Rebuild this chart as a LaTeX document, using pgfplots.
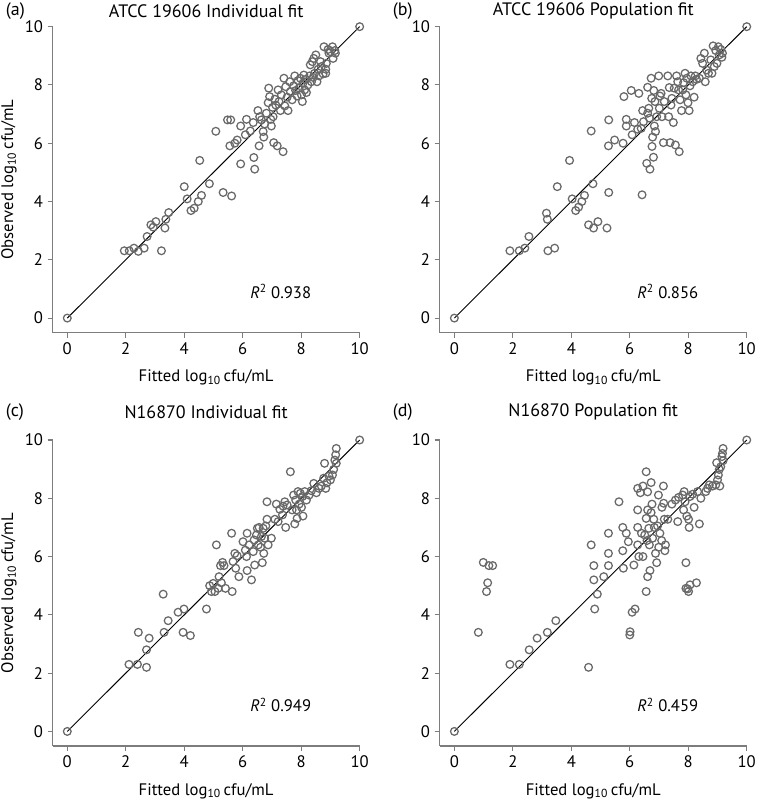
\documentclass[border=0pt]{standalone}
\usepackage{fontspec}
\setmainfont{PT Sans}
\usepackage{pgfplots}
\pgfplotsset{compat=1.18}
\definecolor{ptc}{RGB}{105,105,105}
\definecolor{axc}{RGB}{125,125,125}
\pgfplotsset{
  panel/.style={
    width=230.25pt, height=229.5pt, scale only axis,
    xmin=-0.5, xmax=10, ymin=-0.5, ymax=10,
    axis lines=left,
    axis line style={-, draw=axc, line width=1.1pt},
    x axis line style={-}, y axis line style={-},
    xtick={0,2,...,10}, ytick={0,2,...,10},
    tick align=outside, major tick length=3.75pt,
    tick style={draw=axc, line width=0.8pt},
    /pgf/number format/assume math mode=true,
    tick label style={font=\fontsize{12.5pt}{14pt}\selectfont},
    label style={font=\fontsize{12.5pt}{14pt}\selectfont},
    xlabel={Fitted log\textsubscript{10}\,cfu/mL},
    xlabel style={at={(axis description cs:0.5,-0.147)}, anchor=center},
    clip=false,
    anchor=south west,
  },
  ylab/.style={
    ylabel={Observed log\textsubscript{10}\,cfu/mL},
    ylabel style={at={(axis description cs:-0.1425,0.5)}, anchor=center, rotate=0},
  },
  pts/.style={only marks, mark=o, mark size=2.9pt, mark options={draw=ptc, line width=0.95pt}},
}
\newcommand{\diag}{\addplot[black, line width=0.7pt, no marks] coordinates {(0,0) (10,10)};}
\newcommand{\rfont}{\fontsize{12.5pt}{14pt}\selectfont}
\newcommand{\tfont}{\fontsize{13.5pt}{15pt}\selectfont}
\begin{document}
\begin{tikzpicture}
\path[use as bounding box] (0,0) rectangle (567.75pt,604.5pt);
% (a)
\begin{axis}[panel, ylab, at={(39.5pt,355pt)}]
\addplot[pts] coordinates {
(0,0) (10,10)
(1.95,2.31) (2.12,2.31) (2.28,2.40) (2.43,2.29) (2.63,2.40) (2.73,2.80) (3.22,2.31)
(2.86,3.2) (2.94,3.12) (3.03,3.31) (3.34,3.09) (3.37,3.39) (3.47,3.62)
(4.0,4.51) (4.10,4.09) (4.23,3.69) (4.34,3.77) (4.48,4.0) (4.59,4.21) (4.53,5.41)
(4.86,4.61) (5.33,4.31) (5.62,4.19) (5.08,6.41) (5.48,6.80) (5.59,6.80) (5.56,5.91)
(5.73,6.0) (5.81,6.11) (5.93,6.59) (5.93,5.29) (6.09,6.29) (6.13,6.82) (6.26,6.42)
(6.36,6.71) (6.38,5.51) (6.41,5.11) (6.52,7.12) (6.56,5.91) (6.58,6.91) (6.64,6.80)
(6.70,6.40) (6.72,6.21) (6.75,6.66) (6.81,7.03) (6.87,7.39) (6.89,7.89) (6.92,7.60)
(6.96,6.82) (6.98,6.59) (7.02,7.23) (7.04,6.91) (7.06,6.02) (7.10,7.51) (7.13,7.31)
(7.18,5.91) (7.21,7.83) (7.24,7.43) (7.29,7.12) (7.32,7.66) (7.38,5.71) (7.41,8.23)
(7.44,7.28) (7.47,7.94) (7.52,7.58) (7.55,7.12) (7.61,8.11) (7.63,7.77) (7.69,7.49)
(7.74,7.97) (7.78,8.31) (7.81,7.81) (7.86,7.62) (7.89,8.15) (7.93,7.89) (7.97,8.23)
(8.01,7.66) (8.04,7.43) (8.06,8.06) (8.09,8.34) (8.12,7.83) (8.15,8.19) (8.18,7.74)
(8.23,8.0) (8.29,8.31) (8.35,8.11) (8.41,8.26) (8.46,8.40) (8.54,8.11) (8.58,8.54)
(8.61,8.31) (8.31,8.69) (8.38,8.80) (8.43,8.91) (8.50,9.03) (8.69,8.63) (8.75,8.38)
(8.78,9.31) (8.84,8.40) (8.86,8.74) (8.92,9.22) (8.95,9.09) (9.00,9.14) (9.07,9.31)
(9.09,8.91) (9.15,9.18) (9.17,9.09) (8.84,8.54) (8.66,8.80)
};
\diag
\node[font=\rfont] at (axis cs:7.3,0.91) {\textit{R}\textsuperscript{2} 0.938};
\node[font=\tfont, anchor=center] at (axis description cs:0.5,1.051) {ATCC 19606 Individual fit};
\node[font=\tfont, anchor=west] at (axis description cs:-0.168,1.051) {(a)};
\end{axis}
% (b)
\begin{axis}[panel, at={(329.8pt,355pt)}]
\addplot[pts] coordinates {
(0,0) (10,10)
(1.90,2.31) (2.22,2.31) (2.41,2.40) (2.55,2.80) (3.15,3.60) (3.18,3.39) (3.20,2.31)
(3.43,2.40) (3.52,4.51) (3.94,5.41) (4.03,4.09) (4.15,3.69) (4.25,3.81) (4.36,4.0)
(4.45,4.21) (4.59,3.20) (4.68,6.42) (4.74,4.61) (4.76,3.09) (4.91,3.31) (5.22,3.09)
(5.27,5.91) (5.28,6.80) (5.28,4.31) (5.48,6.11) (5.77,6.0) (5.80,7.60) (5.88,6.82)
(5.88,6.59) (6.05,7.81) (6.08,6.29) (6.16,6.71) (6.27,6.48) (6.31,7.71) (6.39,6.51)
(6.42,4.23) (6.44,7.12) (6.47,6.74) (6.58,5.31) (6.61,7.92) (6.61,7.03) (6.65,7.2)
(6.67,6.86) (6.69,5.11) (6.73,8.23) (6.75,7.54) (6.76,5.89) (6.78,6.21) (6.81,5.52)
(6.82,7.81) (6.84,6.59) (6.86,7.43) (6.88,6.40) (6.92,6.91) (6.99,8.31) (7.01,7.20)
(7.03,7.62) (7.07,7.71) (7.10,6.91) (7.15,6.02) (7.18,7.43) (7.30,8.31) (7.33,6.91)
(7.35,7.91) (7.38,6.02) (7.41,7.31) (7.44,7.54) (7.49,6.71) (7.52,7.89) (7.56,5.94)
(7.60,8.31) (7.64,8.11) (7.67,7.83) (7.69,5.71) (7.72,7.49) (7.77,7.12) (7.81,7.83)
(7.84,8.08) (7.89,8.40) (7.92,7.66) (7.95,8.23) (7.99,7.39) (8.03,7.12) (8.06,7.97)
(8.09,8.31) (8.15,8.11) (8.20,7.58) (8.24,8.31) (8.28,8.19) (8.38,8.23) (8.43,8.91)
(8.49,8.74) (8.55,9.09) (8.58,8.11) (8.63,8.51) (8.69,8.40) (8.77,8.86) (8.81,8.40)
(8.85,9.34) (8.89,8.63) (8.94,9.18) (8.98,8.74) (9.03,9.31) (9.06,9.03) (9.11,9.22)
(9.15,8.95) (9.17,9.09)
};
\diag
\node[font=\rfont] at (axis cs:7.3,0.91) {\textit{R}\textsuperscript{2} 0.856};
\node[font=\tfont, anchor=center] at (axis description cs:0.5,1.051) {ATCC 19606 Population fit};
\node[font=\tfont, anchor=west] at (axis description cs:-0.168,1.051) {(b)};
\end{axis}
% (c)
\begin{axis}[panel, ylab, at={(39.5pt,45pt)}]
\addplot[pts] coordinates {
(0,0) (10,10)
(2.11,2.30) (2.40,2.30) (2.43,3.40) (2.71,2.20) (2.71,2.80) (2.80,3.20) (3.28,4.71)
(3.31,3.40) (3.45,3.80) (3.79,4.09) (3.96,3.40) (3.99,4.20) (4.21,3.29) (4.76,4.20)
(4.87,5.0) (4.93,4.80) (4.99,5.08) (5.05,4.80) (5.10,6.40) (5.16,4.91) (5.19,5.31)
(5.24,5.69) (5.27,5.10) (5.31,5.80) (5.36,5.69) (5.41,4.91) (5.62,6.80) (5.64,4.80)
(5.67,5.83) (5.73,6.11) (5.76,5.60) (5.81,6.03) (5.87,5.31) (6.01,6.51) (6.09,6.22)
(6.13,6.0) (6.15,6.80) (6.15,5.52) (6.22,6.40) (6.30,5.20) (6.36,6.17) (6.39,6.57)
(6.41,5.71) (6.47,6.74) (6.50,6.97) (6.53,6.40) (6.56,7.0) (6.61,6.32) (6.64,6.69)
(6.67,5.79) (6.70,6.97) (6.72,6.11) (6.75,6.63) (6.79,7.05) (6.83,7.88) (6.83,7.28)
(6.87,6.40) (6.98,6.63) (7.10,7.28) (7.15,7.80) (7.21,7.20) (7.27,7.62) (7.36,7.43)
(7.38,7.73) (7.44,7.88) (7.47,7.0) (7.52,7.77) (7.63,8.91) (7.69,7.60) (7.74,8.11)
(7.78,7.12) (7.81,7.94) (7.84,7.60) (7.86,7.31) (7.89,8.23) (7.93,7.80) (7.97,8.17)
(8.01,7.69) (8.04,8.06) (8.06,7.39) (8.12,8.23) (8.18,7.94) (8.27,8.11) (8.35,8.26)
(8.43,8.51) (8.52,8.19) (8.61,8.34) (8.69,8.42) (8.77,8.69) (8.80,9.20) (8.84,8.34)
(8.88,8.53) (8.95,8.76) (9.0,8.63) (9.07,8.80) (9.11,8.99) (9.15,9.31) (9.18,9.49)
(9.20,9.71) (9.20,9.20)
};
\diag
\node[font=\rfont] at (axis cs:7.3,0.91) {\textit{R}\textsuperscript{2} 0.949};
\node[font=\tfont, anchor=center] at (axis description cs:0.5,1.092) {N16870 Individual fit};
\node[font=\tfont, anchor=west] at (axis description cs:-0.168,1.092) {(c)};
\end{axis}
% (d)
\begin{axis}[panel, at={(329.8pt,45pt)}]
\addplot[pts] coordinates {
(0,0) (10,10)
(0.82,3.40) (0.99,5.80) (1.10,4.80) (1.14,5.10) (1.18,5.69) (1.31,5.69) (1.90,2.30)
(2.22,2.30) (2.56,2.80) (2.83,3.20) (3.18,3.40) (3.47,3.80) (4.59,2.20) (4.68,6.40)
(4.77,5.69) (4.77,5.20) (4.80,4.20) (4.89,4.71) (5.11,5.31) (5.27,6.80) (5.27,5.69)
(5.27,6.11) (5.63,7.88) (5.76,7.0) (5.76,6.20) (5.78,5.60) (5.88,6.80) (5.95,6.51)
(6.0,3.31) (6.01,3.42) (6.08,4.09) (6.18,4.20) (6.14,5.71) (6.27,8.34) (6.27,7.60)
(6.27,7.0) (6.27,6.40) (6.31,6.0) (6.36,8.19) (6.40,6.80) (6.45,6.0) (6.45,8.42)
(6.51,6.74) (6.56,8.91) (6.56,7.31) (6.56,4.80) (6.59,6.55) (6.61,8.22) (6.61,7.60)
(6.61,5.31) (6.65,6.97) (6.67,6.40) (6.69,5.52) (6.73,8.54) (6.73,7.51) (6.76,7.80)
(6.78,6.63) (6.82,7.28) (6.84,7.0) (6.88,6.11) (6.92,5.79) (6.95,7.05) (6.98,8.11)
(6.99,6.32) (7.03,6.80) (7.09,6.55) (7.10,7.69) (7.15,8.42) (7.16,7.83) (7.18,7.28)
(7.20,6.20) (7.22,6.40) (7.30,7.28) (7.44,7.80) (7.56,7.94) (7.64,7.20) (7.67,8.03)
(7.81,8.11) (7.84,7.60) (7.86,8.23) (7.89,7.88) (7.92,5.79) (7.92,4.91) (7.95,7.39)
(7.98,4.89) (8.01,7.28) (8.01,4.80) (8.03,7.0) (8.06,8.06) (8.06,5.03) (8.15,8.14)
(8.20,7.69) (8.28,5.10) (8.32,8.23) (8.38,7.12) (8.43,8.0) (8.60,8.23) (8.66,8.34)
(8.72,8.46) (8.83,8.42) (8.94,8.46) (8.97,9.22) (9.0,8.63) (9.03,8.80) (9.06,8.99)
(9.08,8.42) (9.11,9.08) (9.15,9.43) (9.17,9.54) (9.19,9.71) (9.19,9.29)
};
\diag
\node[font=\rfont] at (axis cs:7.3,0.91) {\textit{R}\textsuperscript{2} 0.459};
\node[font=\tfont, anchor=center] at (axis description cs:0.5,1.092) {N16870 Population fit};
\node[font=\tfont, anchor=west] at (axis description cs:-0.168,1.092) {(d)};
\end{axis}
\end{tikzpicture}
\end{document}
